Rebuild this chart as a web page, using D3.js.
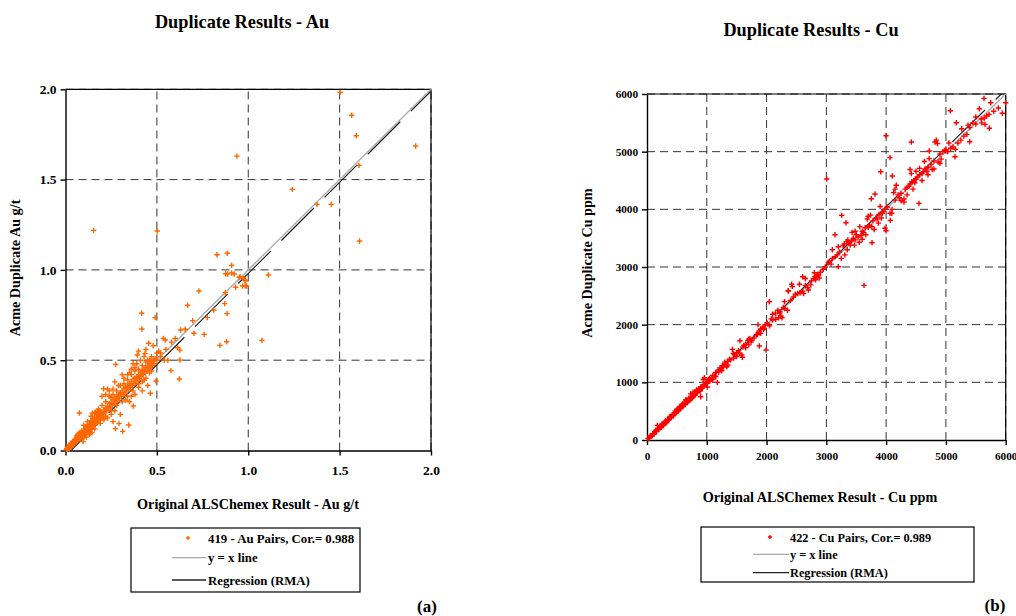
<!DOCTYPE html>
<html>
<head>
<meta charset="utf-8">
<script src="https://cdn.jsdelivr.net/npm/d3@7"></script>
<style>
  body { margin: 0; background: #fff; }
  svg text { font-family: "Liberation Serif", "Times New Roman", serif; font-weight: bold; fill: #000; }
</style>
</head>
<body>
<svg id="chart" width="1016" height="616"></svg>
<script>
// --- data ---
const auTicks = [0, 0.5, 1.0, 1.5, 2.0];
const cuTicks = [0, 1000, 2000, 3000, 4000, 5000, 6000];

const auLegend = ["419 - Au Pairs, Cor.= 0.988", "y = x line", "Regression (RMA)"];
const cuLegend = ["422 - Cu Pairs, Cor.= 0.989", "y = x line", "Regression (RMA)"];

const auRma = [1.01, -0.03];   // slope, intercept
const cuRma = [1.015, -15];

// [original ALSChemex, Acme duplicate]
const auPairs = [
  [0.005,0.006],[0.008,0.01],[0.01,0.008],[0.012,0.015],[0.015,0.012],[0.018,0.02],[0.02,0.018],[0.022,0.025],
  [0.025,0.022],[0.028,0.03],[0.03,0.027],[0.032,0.035],[0.035,0.032],[0.038,0.04],[0.04,0.036],[0.042,0.045],
  [0.045,0.041],[0.048,0.05],[0.05,0.046],[0.03,0.04],[0.04,0.05],[0.05,0.06],[0.02,0.03],[0.045,0.035],[0.055,0.05],
  [0.055,0.058],[0.058,0.052],[0.06,0.065],[0.062,0.058],[0.065,0.07],[0.067,0.062],[0.07,0.075],[0.072,0.068],
  [0.075,0.08],[0.077,0.072],[0.08,0.085],[0.082,0.078],[0.085,0.09],[0.087,0.082],[0.09,0.095],[0.092,0.088],
  [0.095,0.1],[0.097,0.092],[0.06,0.08],[0.07,0.09],[0.08,0.065],[0.09,0.075],[0.1,0.085],[0.065,0.085],
  [0.075,0.095],[0.085,0.1],[0.096,0.049],[0.076,0.208],[0.1,0.11],
  [0.01,0.02],[0.02,0.01],[0.03,0.02],[0.04,0.03],[0.06,0.05],[0.07,0.06],[0.08,0.07],[0.09,0.08],
  [0.06,0.07],[0.07,0.08],[0.08,0.1],[0.09,0.11],[0.11,0.1],[0.12,0.11],[0.13,0.12],[0.14,0.13],
  [0.15,0.14],[0.16,0.15],[0.17,0.16],[0.18,0.17],[0.19,0.18],[0.11,0.12],[0.13,0.13],[0.15,0.16],
  [0.17,0.18],[0.19,0.2],
  [0.1,0.105],[0.102,0.098],[0.105,0.11],[0.107,0.103],[0.11,0.115],[0.112,0.108],[0.115,0.12],[0.117,0.113],
  [0.12,0.125],[0.122,0.118],[0.125,0.13],[0.127,0.122],[0.13,0.135],[0.132,0.128],[0.135,0.14],[0.137,0.133],
  [0.14,0.145],[0.142,0.138],[0.145,0.15],[0.147,0.142],[0.15,0.155],[0.152,0.148],[0.155,0.16],[0.157,0.153],
  [0.16,0.165],[0.162,0.158],[0.165,0.17],[0.167,0.162],[0.17,0.175],[0.172,0.168],[0.175,0.18],[0.177,0.172],
  [0.18,0.185],[0.182,0.178],[0.185,0.19],[0.187,0.182],[0.19,0.195],[0.192,0.188],[0.195,0.2],[0.197,0.192],
  [0.11,0.13],[0.12,0.14],[0.13,0.15],[0.14,0.165],[0.15,0.175],[0.16,0.18],[0.17,0.195],[0.18,0.2],
  [0.12,0.1],[0.13,0.11],[0.14,0.12],[0.15,0.13],[0.16,0.14],[0.17,0.15],[0.18,0.16],[0.19,0.17],[0.2,0.18],
  [0.147,0.206],[0.115,0.075],[0.135,0.095],[0.145,0.1],[0.165,0.21],[0.175,0.215],[0.185,0.22],
  [0.1,0.14],[0.12,0.16],[0.14,0.19],[0.16,0.21],[0.18,0.23],[0.1,0.07],[0.13,0.09],[0.16,0.12],[0.19,0.15],
  [0.2,0.21],[0.205,0.2],[0.21,0.225],[0.215,0.21],[0.22,0.235],[0.225,0.22],[0.23,0.245],[0.235,0.23],
  [0.24,0.26],[0.245,0.24],[0.25,0.265],[0.255,0.25],[0.26,0.28],[0.265,0.26],[0.27,0.29],[0.275,0.27],
  [0.28,0.3],[0.285,0.28],[0.29,0.31],[0.295,0.29],[0.209,0.342],[0.249,0.292],[0.22,0.31],[0.24,0.33],
  [0.26,0.34],[0.275,0.477],[0.273,0.121],[0.293,0.149],[0.313,0.106],[0.346,0.141],[0.23,0.18],[0.25,0.2],
  [0.27,0.22],[0.21,0.17],[0.2,0.25],[0.22,0.27],[0.24,0.3],[0.26,0.31],[0.28,0.33],[0.22,0.19],[0.25,0.22],
  [0.28,0.25],[0.2,0.3],[0.23,0.34],[0.29,0.36],[0.27,0.38],[0.3,0.2],[0.26,0.16],
  [0.3,0.32],[0.305,0.3],[0.31,0.33],[0.315,0.31],[0.32,0.345],[0.325,0.32],[0.33,0.35],[0.335,0.33],
  [0.34,0.36],[0.345,0.34],[0.35,0.37],[0.355,0.35],[0.36,0.38],[0.365,0.36],[0.37,0.395],[0.375,0.37],
  [0.38,0.4],[0.385,0.38],[0.39,0.41],[0.395,0.39],[0.4,0.42],[0.405,0.4],[0.41,0.43],[0.415,0.41],
  [0.42,0.44],[0.425,0.42],[0.43,0.45],[0.435,0.43],[0.44,0.46],[0.445,0.44],[0.45,0.47],[0.455,0.45],
  [0.46,0.48],[0.465,0.46],[0.47,0.49],[0.475,0.47],[0.48,0.5],[0.485,0.48],[0.49,0.51],[0.371,0.246],
  [0.464,0.317],[0.495,0.385],[0.32,0.4],[0.34,0.42],[0.36,0.45],[0.38,0.46],[0.39,0.48],[0.393,0.529],
  [0.435,0.538],[0.455,0.594],[0.418,0.673],[0.417,0.76],[0.49,0.736],[0.33,0.28],[0.36,0.3],[0.4,0.35],
  [0.42,0.38],[0.44,0.4],[0.41,0.5],[0.43,0.52],[0.45,0.5],[0.47,0.52],
  [0.3,0.36],[0.32,0.37],[0.34,0.39],[0.36,0.42],[0.38,0.44],[0.4,0.45],[0.42,0.47],[0.44,0.49],[0.46,0.5],
  [0.31,0.27],[0.34,0.3],[0.37,0.33],[0.4,0.37],[0.43,0.39],[0.46,0.43],[0.35,0.27],[0.31,0.42],[0.35,0.43],
  [0.37,0.48],[0.4,0.55],[0.44,0.56],[0.48,0.58],[0.47,0.44],[0.42,0.33],[0.38,0.31],[0.45,0.36],
  [0.5,0.5],[0.52,0.54],[0.535,0.621],[0.546,0.612],[0.5,0.54],[0.51,0.55],[0.54,0.5],[0.56,0.5],
  [0.577,0.442],[0.623,0.396],[0.614,0.569],[0.626,0.556],[0.626,0.501],[0.55,0.56],[0.58,0.6],[0.6,0.62],
  [0.52,0.52],[0.63,0.667],[0.655,0.671],[0.668,0.804],[0.696,0.719],[0.703,0.649],[0.73,0.883],[0.759,0.643],
  [0.776,0.736],[0.811,0.778],[0.845,0.582],[0.882,0.602],[0.871,0.813],[0.874,0.874],[0.884,0.758],
  [0.829,1.084],[0.885,1.092],[0.909,1.025],[0.876,0.979],[0.909,0.983],[0.951,0.957],[0.973,0.953],
  [0.887,0.977],[0.923,0.977],[0.955,0.962],[0.982,0.944],[0.931,0.904],[0.991,0.911],[0.969,0.911],
  [0.984,0.911],[0.984,0.94],[0.938,1.63],[0.154,1.219],[0.502,1.215],
  [1.11,0.972],[1.075,0.61],[1.241,1.446],[1.376,1.363],[1.454,1.363],[1.503,1.983],[1.566,1.856],
  [1.591,1.743],[1.606,1.579],[1.609,1.16],[1.916,1.686]
];

const cuPairs = [
  [20,25],[40,35],[60,65],[80,70],[100,110],[120,105],[140,150],[160,145],[173,254],[180,190],[200,185],
  [220,235],[240,225],[260,270],[280,265],[300,315],[320,300],[340,355],[360,345],[380,395],[400,385],
  [420,435],[440,420],[460,475],[480,465],[500,520],[520,500],[540,560],[560,545],[580,600],[600,580],
  [620,650],[640,615],[660,690],[680,660],[700,720],[720,700],[740,760],[760,740],[780,800],[800,780],
  [820,840],[840,820],[860,880],[880,860],[900,920],[920,900],[940,960],[960,940],[980,1000],[1000,985],
  [50,70],[90,80],[130,140],[150,170],[190,200],[230,210],[250,280],[270,250],[310,330],[330,310],
  [370,360],[390,410],[410,400],[450,440],[470,500],[490,480],[510,540],[530,515],[550,580],[570,560],
  [590,620],[610,600],[630,620],[650,700],[670,650],[690,710],[710,690],[730,800],[750,720],[770,830],
  [790,770],[810,790],[830,870],[850,840],[870,890],[890,850],[898,751],[940,1050],[960,1080],[1010,920],
  [1030,1050],[1050,1020],[600,620],[700,680],[800,820],[900,880],[300,290],[400,410],[500,490],
  [1020,1010],[1050,1070],[1080,1060],[1100,1120],[1130,1110],[1150,1170],[1177,1000],[1193,1214],
  [1200,1180],[1220,1250],[1240,1230],[1260,1290],[1280,1270],[1300,1320],[1333,1271],[1350,1360],
  [1380,1400],[1400,1390],[1428,1572],[1444,1503],[1460,1480],[1480,1470],[1500,1520],[1530,1550],
  [1555,1720],[1584,1474],[1595,1434],[1600,1610],[1620,1640],[1650,1660],[1690,1720],[1700,1650],
  [1740,1700],[1720,1760],[1790,1770],[1830,1830],[1857,2000],[1875,1890],[1879,1630],[1900,1920],
  [1940,1960],[1960,1940],[1991,1561],[1980,2000],[1250,1200],[1150,1100],[1350,1300],[1450,1420],
  [1550,1500],[1650,1600],[1750,1730],[1850,1830],[1950,1920],[1100,1050],[1300,1350],[1500,1450],
  [1700,1750],[1900,1850],
  [2010,2030],[2046,2398],[2050,1980],[2080,2100],[2100,2080],[2153,2093],[2190,2250],[2200,2120],
  [2220,2200],[2225,2225],[2240,2150],[2258,2120],[2280,2300],[2300,2280],[2364,2589],[2364,2584],
  [2400,2420],[2420,2700],[2431,2659],[2450,2480],[2480,2530],[2520,2540],[2560,2550],[2600,2580],
  [2604,2832],[2620,2540],[2650,2680],[2690,2640],[2740,2690],[2750,2760],[2790,2800],[2810,2830],
  [2820,2780],[2830,2840],[2850,2870],[2880,2810],[2900,2910],[2950,2960],[2980,3000],[2800,2900],[2870,2850],
  [2550,2700],[2700,2600],[2650,2800],[2300,2400],[2350,2250],[2150,2200],[2100,2180],
  [3006,4526],[3030,3080],[3050,3100],[3080,3050],[3100,3150],[3145,3560],[3150,3180],[3180,3210],
  [3200,3005],[3220,3260],[3257,3896],[3280,3370],[3300,3400],[3310,3210],[3329,3768],[3340,3440],
  [3360,3470],[3380,3420],[3400,3380],[3420,3450],[3450,3500],[3480,3470],[3500,3560],[3530,3520],
  [3580,3550],[3600,3620],[3630,2682],[3650,3680],[3685,3832],[3700,3690],[3720,3720],[3752,4184],
  [3764,3421],[3780,3800],[3814,4266],[3830,3850],[3850,3830],[3880,3910],[3909,4653],[3936,3931],
  [3950,3960],[3981,3671],[3998,3629],[3998,5277],[3980,4000],[3480,3620],[3550,3430],[3620,3600],
  [3700,3880],[3760,3700],[3870,3760],[3920,3850],[3100,3300],[3200,3350],[3250,3150],[3350,3300],
  [3430,3600],[3470,3380],[3560,3700],[3600,3480],[3660,3560],[3740,3900],[3800,3650],[3900,4050],
  [4020,4040],[4065,4896],[4065,3931],[4070,3809],[4093,3931],[4103,4578],[4127,4289],[4150,4160],
  [4170,4417],[4200,4250],[4220,4202],[4250,4280],[4299,4127],[4299,4180],[4320,4350],[4350,4380],
  [4380,4400],[4400,4440],[4422,5167],[4430,4480],[4460,4500],[4480,4460],[4500,4520],[4520,4560],
  [4550,4104],[4560,4600],[4600,4620],[4620,4650],[4650,4700],[4680,4660],[4700,4730],[4722,5011],
  [4750,4780],[4770,4690],[4800,4840],[4818,5167],[4840,5200],[4860,5140],[4870,4820],[4900,4960],
  [4920,4870],[4950,5000],[4980,5020],[4500,4660],[4420,4620],[4400,4690],[4560,4710],[4640,4830],[4720,4880],
  [4100,4000],[4150,4350],[4250,4150],[4350,4250],[4450,4350],[4600,4500],[4700,4600],[4800,4700],[4900,4800],
  [5000,5030],[5030,5000],[5074,5710],[5080,5060],[5120,5080],[5152,4913],[5160,5040],[5174,5502],
  [5200,5150],[5264,5398],[5300,5270],[5370,5460],[5400,5420],[5398,5173],[5450,5500],[5500,5480],
  [5559,5745],[5592,5566],[5637,5925],[5642,5583],[5654,5474],[5683,5618],[5721,5647],[5726,5405],
  [5749,5849],[5877,5757],[5944,5665],[6000,5849],[5050,5150],[5250,5200],[5350,5300],[5500,5600],
  [5600,5500],[5800,5700]
];

const svg = d3.select("#chart");
const crossPath = "M-2.7,0H2.7M0,-2.7V2.7";

function panel(o) {
  const x = d3.scaleLinear().domain(o.domain).range([o.left, o.right]);
  const y = d3.scaleLinear().domain(o.domain).range([o.bottom, o.top]);
  const g = svg.append("g");

  // dashed grid
  g.selectAll(".gx").data(o.ticks.slice(1)).enter().append("line")
    .attr("x1", d => x(d)).attr("x2", d => x(d))
    .attr("y1", o.bottom).attr("y2", o.top)
    .attr("stroke", "#333").attr("stroke-width", 1).attr("stroke-dasharray", "8,5");
  g.selectAll(".gy").data(o.ticks.slice(1)).enter().append("line")
    .attr("x1", o.left).attr("x2", o.right)
    .attr("y1", d => y(d)).attr("y2", d => y(d))
    .attr("stroke", "#333").attr("stroke-width", 1).attr("stroke-dasharray", "8,5");

  // frame top/right
  g.append("path")
    .attr("d", `M${o.left},${o.top}H${o.right}V${o.bottom}`)
    .attr("fill", "none").attr("stroke", "#000").attr("stroke-width", 1.2);

  // axes
  g.append("g").attr("transform", `translate(0,${o.bottom})`)
    .call(d3.axisBottom(x).tickValues(o.ticks).tickFormat(o.fmt).tickSize(5).tickPadding(o.xPad).tickSizeOuter(0))
    .call(a => a.selectAll("text").attr("font-size", o.tickFont));
  g.append("g").attr("transform", `translate(${o.left},0)`)
    .call(d3.axisLeft(y).tickValues(o.ticks).tickFormat(o.fmt).tickSize(5).tickPadding(4).tickSizeOuter(0))
    .call(a => a.selectAll("text").attr("font-size", o.tickFont));
  g.selectAll(".domain, .tick line").attr("stroke", "#000").attr("stroke-width", 1.4);

  // clip for lines
  const clipId = "clip" + o.name;
  svg.append("clipPath").attr("id", clipId).append("rect")
    .attr("x", o.left).attr("y", o.top).attr("width", o.right - o.left).attr("height", o.bottom - o.top);

  const line = d3.line().x(d => x(d[0])).y(d => y(d[1]));
  const lo = o.domain[0], hi = o.domain[1];
  g.append("path").datum([[lo, lo], [hi, hi]])
    .attr("d", line).attr("fill", "none").attr("stroke", "#aaa").attr("stroke-width", 1.3);
  g.append("path").datum([[lo, o.rma[0] * lo + o.rma[1]], [hi, o.rma[0] * hi + o.rma[1]]])
    .attr("clip-path", `url(#${clipId})`)
    .attr("d", line).attr("fill", "none").attr("stroke", "#222").attr("stroke-width", 1.2)
    .attr("stroke-dasharray", "46,15");

  // points
  g.append("g").selectAll("path").data(o.data).enter().append("path")
    .attr("transform", d => `translate(${x(d[0])},${y(d[1])})`)
    .attr("d", crossPath).attr("stroke", o.color).attr("stroke-width", 1.4).attr("fill", "none");

  // titles
  g.append("text").attr("x", o.titleX).attr("y", o.titleY).attr("text-anchor", "middle")
    .attr("font-size", 18.3).text(o.title);
  g.append("text").attr("x", o.xLabelX).attr("y", o.xLabelY).attr("text-anchor", "middle")
    .attr("font-size", 14.2).text(o.xLabel);
  g.append("text").attr("transform", `translate(${o.yLabelX},${o.yLabelY}) rotate(-90)`)
    .attr("text-anchor", "middle").attr("font-size", 14.2).text(o.yLabel);

  // legend
  const L = o.legend;
  g.append("rect").attr("x", L.x0).attr("y", L.y0).attr("width", L.x1 - L.x0).attr("height", L.y1 - L.y0)
    .attr("fill", "#fff").attr("stroke", "#000").attr("stroke-width", 1.2);
  g.append("path").attr("transform", `translate(${L.mark},${L.rows[0]})`)
    .attr("d", "M-2,0H2M0,-2V2").attr("stroke", o.color).attr("stroke-width", 1.4);
  g.append("line").attr("x1", L.l0).attr("x2", L.l1).attr("y1", L.rows[1]).attr("y2", L.rows[1])
    .attr("stroke", "#aaa").attr("stroke-width", 1.2);
  g.append("line").attr("x1", L.l0).attr("x2", L.l1).attr("y1", L.rows[2]).attr("y2", L.rows[2])
    .attr("stroke", "#222").attr("stroke-width", 1.3);
  g.selectAll(".lt").data(o.legendText).enter().append("text")
    .attr("x", L.tx).attr("y", (d, i) => L.rows[i] + 4.5)
    .attr("font-size", L.font).text(d => d);

  g.append("text").attr("x", o.tagX).attr("y", o.tagY).attr("text-anchor", "middle")
    .attr("font-size", 17).text(o.tag);
}

panel({
  name: "au", data: auPairs, ticks: auTicks, domain: [0, 2], rma: auRma, color: "#ff6600",
  fmt: d3.format(".1f"), tickFont: 13.5, xPad: 10,
  left: 65.5, right: 431, top: 89.3, bottom: 450.5,
  title: "Duplicate Results - Au", titleX: 242, titleY: 28,
  xLabel: "Original ALSChemex Result - Au g/t", xLabelX: 248, xLabelY: 509,
  yLabel: "Acme Duplicate Au g/t", yLabelX: 20, yLabelY: 268,
  legendText: auLegend,
  legend: {x0: 131, x1: 360, y0: 528, y1: 592, rows: [538, 557.7, 580], mark: 188, l0: 172, l1: 206, tx: 208, font: 12.8},
  tag: "(a)", tagX: 427, tagY: 612
});

panel({
  name: "cu", data: cuPairs, ticks: cuTicks, domain: [0, 6000], rma: cuRma, color: "#ff0000",
  fmt: d3.format("d"), tickFont: 11.2, xPad: 7,
  left: 647, right: 1005.7, top: 94, bottom: 440,
  title: "Duplicate Results - Cu", titleX: 811, titleY: 36,
  xLabel: "Original ALSChemex Result - Cu ppm", xLabelX: 820, xLabelY: 502,
  yLabel: "Acme Duplicate Cu ppm", yLabelX: 592, yLabelY: 263,
  legendText: cuLegend,
  legend: {x0: 701, x1: 974, y0: 527, y1: 582, rows: [537, 554.3, 572.7], mark: 770, l0: 753, l1: 789, tx: 790, font: 12.3},
  tag: "(b)", tagX: 995, tagY: 611
});
</script>
</body>
</html>
